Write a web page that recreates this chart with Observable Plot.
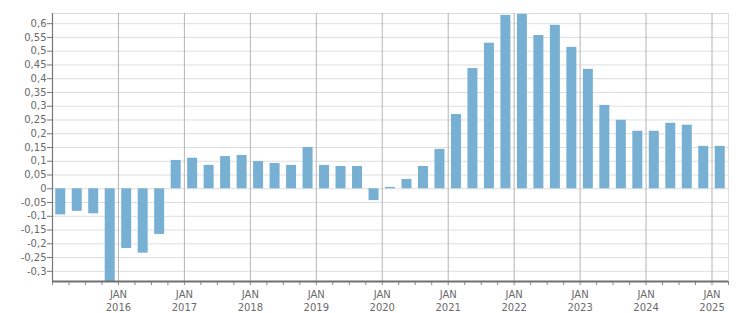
<!DOCTYPE html>
<html><head><meta charset="utf-8">
<script src="https://cdn.jsdelivr.net/npm/d3@7"></script>
<script src="https://cdn.jsdelivr.net/npm/@observablehq/plot@0.6"></script>
<style>html,body{margin:0;padding:0;background:#fff} svg{display:block}</style>
</head><body><div id="chart"></div>
<script>
const quarters = [
  "2015 Q1","2015 Q2","2015 Q3","2015 Q4",
  "2016 Q1","2016 Q2","2016 Q3","2016 Q4",
  "2017 Q1","2017 Q2","2017 Q3","2017 Q4",
  "2018 Q1","2018 Q2","2018 Q3","2018 Q4",
  "2019 Q1","2019 Q2","2019 Q3","2019 Q4",
  "2020 Q1","2020 Q2","2020 Q3","2020 Q4",
  "2021 Q1","2021 Q2","2021 Q3","2021 Q4",
  "2022 Q1","2022 Q2","2022 Q3","2022 Q4",
  "2023 Q1","2023 Q2","2023 Q3","2023 Q4",
  "2024 Q1","2024 Q2","2024 Q3","2024 Q4",
  "2025 Q1"
];
const values = [
  -0.095, -0.082, -0.091, -0.34,
  -0.217, -0.234, -0.166, 0.103,
  0.111, 0.085, 0.117, 0.121,
  0.099, 0.092, 0.085, 0.150,
  0.085, 0.081, 0.081, -0.043,
  0.005, 0.034, 0.081, 0.143,
  0.270, 0.437, 0.529, 0.630,
  0.634, 0.557, 0.594, 0.514,
  0.434, 0.303, 0.249, 0.209,
  0.209, 0.238, 0.231, 0.154,
  0.154
];
const yearLabels = ["2016","2017","2018","2019","2020","2021","2022","2023","2024","2025"];
const monthLabel = "JAN";
const yTicks = [-0.3,-0.25,-0.2,-0.15,-0.1,-0.05,0,0.05,0.1,0.15,0.2,0.25,0.3,0.35,0.4,0.45,0.5,0.55,0.6];
const yDomain = [-0.337, 0.637];

const data = quarters.map((q, i) => ({q, i, v: values[i]}));
const janIdx = yearLabels.map(y => quarters.indexOf(y + " Q1"));
const qIdx = d3.range(0, quarters.length + 1);
const fmt = d => String(+d.toFixed(2)).replace(".", ",");

const chart = Plot.plot({
  width: 751, height: 313,
  marginLeft: 52, marginRight: 23, marginTop: 13, marginBottom: 32,
  style: {fontFamily: "DejaVu Sans, Verdana, sans-serif", fontSize: "10px", color: "#6a6a6a", background: "#fff"},
  x: {type: "linear", domain: [0, quarters.length]},
  y: {domain: yDomain},
  marks: [
    Plot.gridY(yTicks, {stroke: "#dedede", strokeOpacity: 1}),
    Plot.ruleY([yDomain[1]], {stroke: "#dedede"}),
    Plot.ruleX([quarters.length], {stroke: "#dedede"}),
    Plot.gridX(janIdx, {stroke: "#b4b4b4", strokeOpacity: 1}),
    Plot.rectY(data, {x1: "i", x2: d => d.i + 1, y: "v", fill: "#77b0d3", insetLeft: 3.25, insetRight: 3.25, clip: true}),
    Plot.axisY(yTicks, {tickFormat: fmt, tickSize: 5, tickPadding: 1, label: null, stroke: "#777"}),
    Plot.ruleX([0], {stroke: "#777", strokeWidth: 1.2}),
    Plot.axisX(qIdx, {tickFormat: () => "", tickSize: 4, label: null, stroke: "#888"}),
    Plot.axisX(janIdx, {tickFormat: () => monthLabel, tickSize: 0, tickPadding: 9, label: null}),
    Plot.axisX(janIdx, {tickFormat: d => yearLabels[janIdx.indexOf(d)], tickSize: 0, tickPadding: 22, label: null}),
    Plot.ruleY([yDomain[0]], {stroke: "#707070", strokeWidth: 2})
  ]
});
document.getElementById("chart").appendChild(chart);
</script>
</body></html>
